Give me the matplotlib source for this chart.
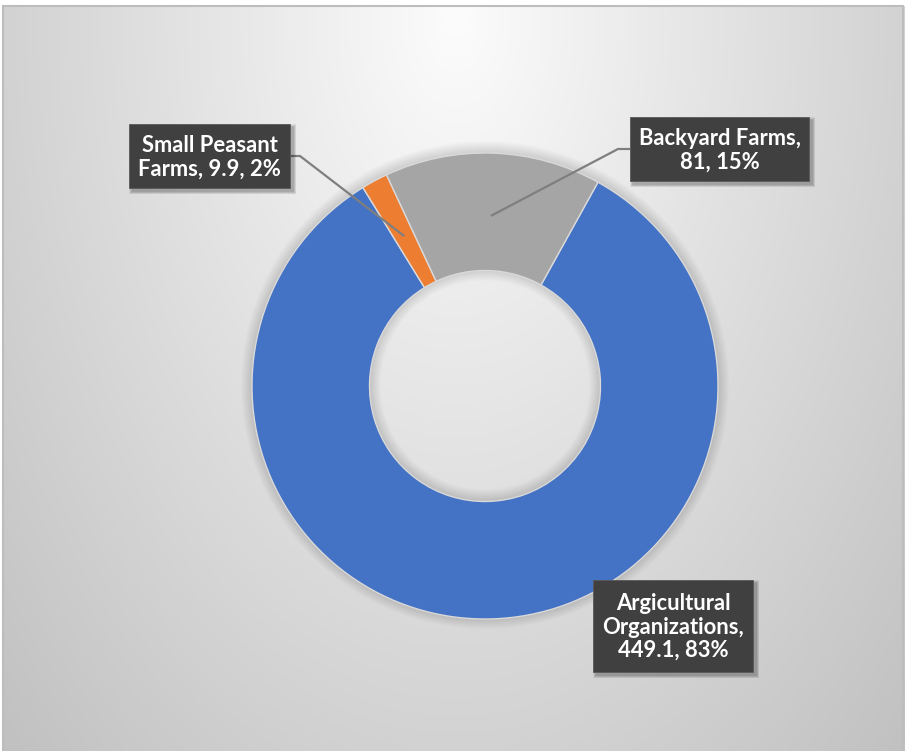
import numpy as np
import matplotlib
matplotlib.use("Agg")
import matplotlib.pyplot as plt
from matplotlib.patches import Rectangle, Wedge
import textwrap

# ---- data ----
categories = ["Argicultural Organizations", "Small Peasant Farms", "Backyard Farms"]
values = [449.1, 9.9, 81]
colors = ["#4472C4", "#ED7D31", "#A5A5A5"]

W, H = 905, 751
fig = plt.figure(figsize=(W / 100, H / 100), dpi=100)
ax = fig.add_axes([0, 0, 1, 1])

# ---- background gradient (frame) ----
yy, xx = np.mgrid[0:H, 0:W].astype(float)
u = (xx - 455) / 450
v = (yy - 20) / 730
d = np.sqrt(u ** 2 + v ** 2)
val = np.clip(252 - 42 * d, 0, 255) / 255.0
img = np.dstack([val, val, val])
img[yy < 6] = 1.0
img[xx < 3] = 1.0
img[xx > 903] = 1.0
ax.imshow(img, extent=(0, W, 0, H), origin="upper", zorder=0, interpolation="bilinear")
ax.add_patch(Rectangle((3, -10), 900, H - 6 + 10, fill=False, edgecolor="#bdbdbd", lw=1.5, zorder=1))

# ---- donut ----
cx, cy = 485, H - 386
R, RW = 233, 117.5
# soft shadow
for k in range(1, 12):
    ax.add_patch(Wedge((cx, cy + 1), R + k, 0, 360, width=RW + 2 * k,
                       facecolor="black", edgecolor="none", alpha=0.012, zorder=2))

wedges, _ = ax.pie(values, colors=colors, startangle=61, counterclock=False,
                   center=(cx, cy), radius=R, frame=True,
                   wedgeprops=dict(width=RW, edgecolor="#d9d9d9", linewidth=1))
for w in wedges:
    w.set_zorder(3)

total = sum(values)
labels = [textwrap.fill(f"{c}, {v:g}, {round(v / total * 100):.0f}%", 15)
          for c, v in zip(categories, values)]

# label boxes (pixel coords: left, top, right, bottom)
boxes = [(593, 580, 753, 672), (129, 124, 290, 188), (630, 117, 809, 181)]
leader = [None, "right", "left"]

for i, (lab, (l, t, r, b)) in enumerate(zip(labels, boxes)):
    y0, y1 = H - b, H - t
    for k in range(1, 7):
        ax.add_patch(Rectangle((l + 3 - k * 0.5, y0 - 3 - k * 0.5), (r - l) + k, (y1 - y0) + k,
                               facecolor="black", edgecolor="none", alpha=0.05, zorder=6))
    ax.add_patch(Rectangle((l, y0), r - l, y1 - y0, facecolor="#404040",
                           edgecolor="#5a5a5a", lw=0.6, zorder=7))
    ax.text((l + r) / 2, (y0 + y1) / 2 - 1, lab, ha="center", va="center", color="white",
            fontsize=15.8, fontweight="bold", family="Lato", linespacing=1.15, zorder=8)
    if leader[i]:
        w = wedges[i]
        th = np.deg2rad((w.theta1 + w.theta2) / 2)
        rm = R - RW / 2 - 4
        ex, ey = cx + rm * np.cos(th), cy + rm * np.sin(th)
        ym = (y0 + y1) / 2
        if leader[i] == "right":
            xs = [r, r + 10, ex]
        else:
            xs = [l, l - 12, ex]
        ax.plot(xs, [ym, ym, ey], color="#7f7f7f", lw=1.6, zorder=5,
                solid_capstyle="butt")

ax.set_xlim(0, W)
ax.set_ylim(0, H)
ax.set_aspect("equal")
ax.axis("off")
fig.savefig("out.png", dpi=100)
